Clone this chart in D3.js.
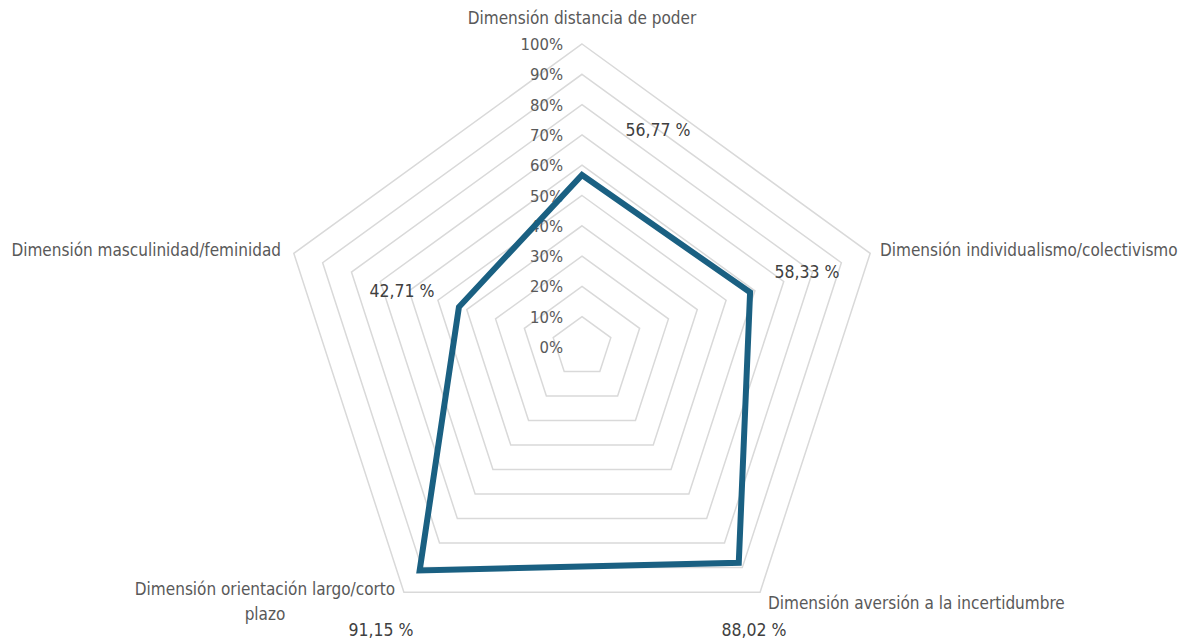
<!DOCTYPE html>
<html>
<head>
<meta charset="utf-8">
<script src="https://cdn.jsdelivr.net/npm/d3@7"></script>
<style>
	body { margin: 0; background: #fff; }
	text { font-family: "Liberation Sans Narrow", "DejaVu Sans Condensed", sans-serif; fill: #595959; }
</style>
</head>
<body>
<svg id="chart" width="1185" height="641"></svg>
<script>
var dimensions = ['Dimensión distancia de poder', 'Dimensión individualismo/colectivismo',
	'Dimensión aversión a la incertidumbre', 'Dimensión orientación largo/corto plazo',
	'Dimensión masculinidad/feminidad'];
var values = [56.77, 58.33, 88.02, 91.15, 42.71];
var valueLabels = ['56,77 %', '58,33 %', '88,02 %', '91,15 %', '42,71 %'];
var ticks = [0, 10, 20, 30, 40, 50, 60, 70, 80, 90, 100];

var cx = 582, cy = 347, R = 303;
var svg = d3.select('#chart');
var r = d3.scaleLinear().domain([0, 100]).range([0, R]);
var angle = d3.scaleLinear().domain([0, dimensions.length]).range([0, 2 * Math.PI]);

function pt(i, v) {
	var a = angle(i);
	return [cx + r(v) * Math.sin(a), cy - r(v) * Math.cos(a)];
}

var g = svg.append('g');

// grid rings
ticks.slice(1).forEach(function (t) {
	var pts = dimensions.map(function (d, i) { return pt(i, t); });
	g.append('polygon')
		.attr('points', pts.map(function (p) { return p.join(','); }).join(' '))
		.attr('fill', 'none')
		.attr('stroke', '#d9d9d9')
		.attr('stroke-width', 1.5);
});

// tick labels
ticks.forEach(function (t) {
	g.append('text')
		.attr('x', cx - 19)
		.attr('y', cy - r(t) + 6)
		.attr('text-anchor', 'end')
		.style('font-size', '16.5px')
		.text(t + '%');
});

// series
var line = d3.line().curve(d3.curveLinearClosed);
g.append('path')
	.attr('d', line(values.map(function (v, i) { return pt(i, v); })))
	.attr('fill', 'none')
	.attr('stroke', '#1a6082')
	.attr('stroke-width', 6)
	.attr('stroke-linejoin', 'miter');

// axis labels
var axisPos = [
	{ x: 582, y: 24, anchor: 'middle' },
	{ x: 880, y: 256, anchor: 'start' },
	{ x: 768, y: 609, anchor: 'start' },
	{ x: 265, y: 595, anchor: 'middle' },
	{ x: 281, y: 256, anchor: 'end' }
];
dimensions.forEach(function (d, i) {
	var p = axisPos[i];
	var t = g.append('text')
		.attr('x', p.x)
		.attr('y', p.y)
		.attr('text-anchor', p.anchor)
		.style('font-size', '17px');
	if (i === 3) {
		t.append('tspan').attr('x', p.x).text('Dimensión orientación largo/corto');
		t.append('tspan').attr('x', p.x).attr('dy', 25).text('plazo');
	} else {
		t.text(d);
	}
});

// data labels
var labelPos = [[658, 136], [807, 278], [754, 636], [381, 636], [402, 297]];
valueLabels.forEach(function (l, i) {
	g.append('text')
		.attr('x', labelPos[i][0])
		.attr('y', labelPos[i][1])
		.attr('text-anchor', 'middle')
		.style('font-size', '17.5px')
		.style('fill', '#404040')
		.text(l);
});
</script>
</body>
</html>
